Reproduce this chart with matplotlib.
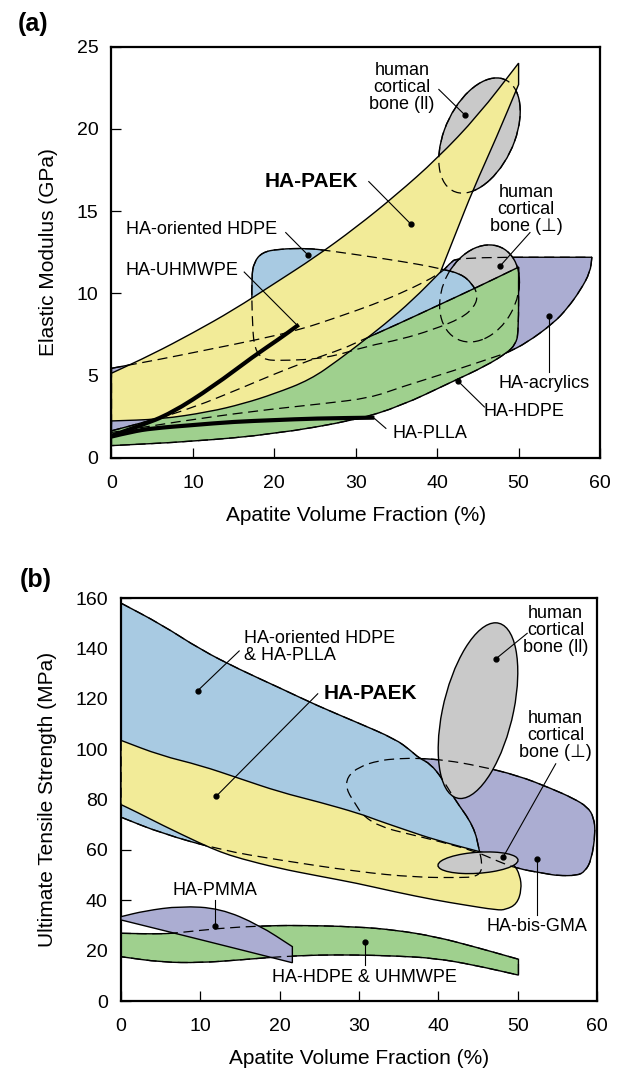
import numpy as np
import matplotlib
matplotlib.use("Agg")
from matplotlib import pyplot as plt
from matplotlib.patches import PathPatch, Ellipse
from matplotlib.path import Path

plt.rcParams['font.family'] = ['Liberation Sans', 'DejaVu Sans']

YELLOW = '#F2EB98'
BLUE = '#A8CAE2'
GREEN = '#9FD08E'
PURPLE = '#ABADD2'
GREY = '#C9C9C9'
DASH = (0, (8, 4.5))

# (a) Elastic modulus (GPa) vs apatite volume fraction (%)
acrylics_a = [(0, 5.45), (6, 6.0), (12, 6.6), (18, 7.2), (23.2, 7.8), (28, 8.6), (32, 9.3),
              (36, 10.1), (40.4, 11.2), (41.5, 11.8), (42.5, 12.2), (59, 12.2), (58.8, 11.3),
              (57.6, 10.2), (56, 9.1), (54.3, 8.2), (51, 7.0), (48.6, 6.4), (48, 6.3), (42, 5.3),
              (35.5, 4.3), (31.8, 3.65), (26, 3.3), (17.5, 2.85), (8, 2.2), (0, 1.55)]
oriented_hdpe_a = [(17.2, 11.0), (17.5, 11.9), (18.5, 12.5), (20.5, 12.7), (24, 12.75), (26.7, 12.6),
                   (33, 12.15), (38, 11.75), (40.4, 11.5), (42.9, 11.2), (44.3, 10.6), (45, 9.9),
                   (44.6, 9.2), (43, 8.5), (39.5, 7.8), (35.5, 7.2), (31.4, 6.8), (26.4, 6.05),
                   (20.5, 5.9), (18.6, 6.0), (17.6, 6.6), (17.3, 8.0)]
hdpe_a = [(0, 1.65), (5, 2.3), (10, 3.05), (16.2, 4.3), (20, 5.1), (24.4, 5.95), (28.5, 6.65),
          (30, 7.0), (35, 8.1), (40, 9.25), (45, 10.4), (50, 11.6), (50, 7.6), (49.6, 6.9),
          (48.6, 6.4), (46, 5.6), (41.7, 4.6), (35.5, 3.15), (30, 2.3), (20, 1.45), (10, 1.0),
          (0, 0.75)]
paek_a = [(0, 5.15), (5, 6.3), (10, 7.6), (15, 9.0), (20, 10.6), (25, 12.2), (30, 14.0), (35, 16.0),
          (40, 18.2), (45, 20.8), (50, 24.0), (50, 22.7), (47.3, 19.5), (44.4, 16.3), (42.4, 13.8),
          (40.4, 11.3), (37, 9.6), (33.5, 8.1), (30.5, 6.95), (28, 6.0), (24.4, 4.75), (20, 3.9),
          (16.2, 3.3), (12, 2.8), (6, 2.35), (0, 2.25)]
uhmwpe_a = [(0, 1.35), (3.5, 1.95), (7.3, 2.7), (12.5, 4.35), (17.5, 6.2), (20.5, 7.2), (23, 8.1)]
plla_a = [(0, 1.3), (2.5, 1.6), (5, 1.8), (10, 2.0), (15, 2.2), (20, 2.3), (25, 2.4), (32.3, 2.45)]
# vertices that stay sharp corners
acrylics_a_sharp = (0, 11, 25)
hdpe_a_sharp = (0, 11, 21)
paek_a_sharp = (0, 10, 11, 15, 25)
# bones: centre, width, height, angle
bone_par_a = ((45.2, 19.6), 10.65, 5.97, 24.5)
bone_perp_a = ((45.2, 10.0), 9.96, 5.63, 12.4)

# label text, text position, leader start, leader end, dot, weight
labels_a = [
    ('human\ncortical\nbone (ll)', (35.7, 22.5), (40.2, 22.4), (43.4, 20.85), True, 'normal'),
    ('HA-PAEK', (24.6, 16.8), (31.6, 16.8), (36.8, 14.2), True, 'bold'),
    ('human\ncortical\nbone (\u22a5)', (50.9, 15.1), (51.4, 13.7), (47.7, 11.65), True, 'normal'),
    ('HA-oriented HDPE', (11.1, 13.9), (21.4, 13.7), (24.1, 12.35), True, 'normal'),
    ('HA-UHMWPE', (8.7, 11.4), (16.3, 11.3), (22.8, 8.07), False, 'normal'),
    ('HA-acrylics', (53.1, 4.5), (53.7, 5.2), (53.7, 8.6), True, 'normal'),
    ('HA-HDPE', (50.6, 2.8), (45.8, 3.1), (42.5, 4.7), True, 'normal'),
    ('HA-PLLA', (39.1, 1.5), (33.7, 1.8), (32.3, 2.4), False, 'normal'),
]

# (b) Ultimate tensile strength (MPa) vs apatite volume fraction (%)
bisgma_b = [(37.6, 96.4), (41, 95.6), (45, 93.4), (50, 89.6), (54.3, 84.3), (57, 80.5), (58.8, 77.1),
            (59.6, 73), (59.8, 66.6), (59.3, 56), (58.5, 51.5), (57.5, 49.8), (55, 49.8),
            (53.7, 50.5), (49.9, 52.6), (47.5, 55.5), (44.8, 59.3), (40, 63.5), (36, 66.5),
            (32.7, 69.2), (30.5, 73.5), (29.5, 78.5), (28.4, 84), (28.5, 89), (30, 93),
            (32.5, 95.5), (35, 96.3)]
oriented_hdpe_b = [(0, 158), (5.1, 149.5), (10, 139.6), (14.9, 131.7), (19.9, 124.5), (24.8, 117.2),
                   (29.7, 110.7), (34.6, 104), (36.5, 99.5), (37.6, 96.4), (39, 94.2), (40.5, 88.3),
                   (42, 80.4), (44.5, 69.3), (45.2, 59.3), (45.5, 55), (45.4, 51), (44.5, 49.3),
                   (43, 49), (37.1, 49.1), (29.7, 51.4), (19.9, 56), (12.5, 60), (5.1, 66.6),
                   (0, 73)]
paek_b = [(0, 103.5), (5, 97.5), (10, 93.6), (15, 88.3), (20, 83), (25, 79), (30, 74.5), (32.2, 71.9),
          (36, 67.8), (39.6, 64), (45.2, 59.3), (48, 57), (49.5, 54.5), (50.3, 50), (50.5, 44.2),
          (49.9, 38.5), (48.5, 36.3), (47.4, 36.1), (43.2, 38.2), (39.6, 40.1), (34.6, 43.3),
          (29.7, 46.8), (24.8, 49.7), (19.9, 52.7), (15, 56.6), (12.5, 59.2), (10, 62.6),
          (5.1, 70), (2, 75), (0, 78)]
hdpe_b = [(0, 26.9), (5.1, 26.6), (7.5, 27.2), (12.5, 28.9), (17.4, 29.8), (22.3, 30.1), (29.7, 29.5),
          (34.6, 28.2), (39.6, 25.6), (44.5, 21.6), (50.1, 16.6), (50.1, 10.3), (44.5, 14.3),
          (39.6, 17), (34.6, 17.9), (29.7, 18.3), (24.8, 18.3), (19.9, 17.6), (14.9, 16.3),
          (10, 15.2), (5.1, 15.4), (0, 17.6)]
pmma_b = [(0, 33.5), (3, 35.8), (7.5, 37.7), (12.5, 36.8), (17.4, 30.2), (21.6, 21.6), (21.6, 15.2),
          (10, 24.4), (0, 32.2)]
oriented_hdpe_b_sharp = (0, 24)
paek_b_sharp = (0, 29)
hdpe_b_sharp = (0, 10, 11, 21)
pmma_b_sharp = (0, 5, 6, 8)
bone_par_b = ((45.0, 115.3), 69.9, 9.0, 86.33)
bone_perp_b = ((45.0, 54.9), 10.62, 7.95, 27.9)

labels_b = [
    ('HA-oriented HDPE\n& HA-PLLA', (15.5, 140.5), (14.9, 139.0), (9.66, 123.2), True, 'normal'),
    ('HA-PAEK', (31.4, 122.2), (24.8, 122.0), (12.0, 81.3), True, 'bold'),
    ('human\ncortical\nbone (ll)', (54.8, 147.3), (51.2, 146.0), (47.3, 136.0), True, 'normal'),
    ('human\ncortical\nbone (\u22a5)', (54.8, 105.4), (54.8, 94.2), (48.2, 57.3), True, 'normal'),
    ('HA-bis-GMA', (52.4, 29.5), (52.5, 34.1), (52.5, 56.2), True, 'normal'),
    ('HA-PMMA', (11.9, 43.8), (11.9, 40.1), (11.9, 29.9), True, 'normal'),
    ('HA-HDPE & UHMWPE', (30.7, 9.3), (30.8, 14.3), (30.8, 23.6), True, 'normal'),
]


def closed_path(pts, sharp=()):
    # quadratic curves between edge midpoints; sharp vertices are doubled
    seq = []
    for i, p in enumerate(pts):
        seq.append(p)
        if i in sharp:
            seq.append(p)
    n = len(seq)
    mids = [((seq[i][0] + seq[(i + 1) % n][0]) / 2, (seq[i][1] + seq[(i + 1) % n][1]) / 2)
            for i in range(n)]
    verts = [mids[0]]
    codes = [Path.MOVETO]
    for i in range(1, n + 1):
        verts += [seq[i % n], mids[i % n]]
        codes += [Path.CURVE3, Path.CURVE3]
    verts.append(mids[0])
    codes.append(Path.CLOSEPOLY)
    return Path(verts, codes)


def open_path(pts):
    verts = [pts[0]]
    codes = [Path.MOVETO]
    for i in range(1, len(pts) - 1):
        mid = ((pts[i][0] + pts[i + 1][0]) / 2, (pts[i][1] + pts[i + 1][1]) / 2)
        verts += [pts[i], mid]
        codes += [Path.CURVE3, Path.CURVE3]
    verts.append(pts[-1])
    codes.append(Path.LINETO)
    return Path(verts, codes)


def region(ax, pts, color, z, sharp=(), hidden=False):
    path = closed_path(pts, sharp)
    ax.add_patch(PathPatch(path, facecolor=color, edgecolor='k', lw=1.0, zorder=z))
    if hidden:
        ax.add_patch(PathPatch(path, fill=False, edgecolor='k', lw=0.9, ls=DASH, zorder=20))


def bone(ax, spec, z, hidden=False):
    c, w, h, ang = spec
    ax.add_patch(Ellipse(c, w, h, angle=ang, facecolor=GREY, edgecolor='k', lw=1.0, zorder=z))
    if hidden:
        ax.add_patch(Ellipse(c, w, h, angle=ang, fill=False, edgecolor='k', lw=0.9,
                             ls=DASH, zorder=20))


def put_labels(ax, labels):
    for text, pos, start, end, dot, weight in labels:
        size = 15 if weight == 'bold' else 13
        ha = 'left' if text.startswith('HA-oriented HDPE\n') else 'center'
        ax.text(pos[0], pos[1], text, ha=ha, va='center', fontsize=size, fontweight=weight,
                linespacing=1.0, zorder=30)
        ax.plot([start[0], end[0]], [start[1], end[1]], color='k', lw=0.8, zorder=30)
        if dot:
            ax.plot(end[0], end[1], 'o', color='k', ms=3.5, zorder=31)


def style(ax, ymax, ystep, ylabel):
    ax.set_xlim(0, 60)
    ax.set_ylim(0, ymax)
    ax.set_xticks(np.arange(0, 61, 10))
    ax.set_yticks(np.arange(0, ymax + 1, ystep))
    ax.tick_params(direction='in', length=7, width=0.9, labelsize=14)
    ax.tick_params(axis='x', pad=12.5)
    ax.tick_params(axis='y', pad=9.5)
    for s in ax.spines.values():
        s.set_linewidth(1.6)
    ax.set_xlabel('Apatite Volume Fraction (%)', fontsize=15, labelpad=10)
    ax.set_ylabel(ylabel, fontsize=15, labelpad=13)


fig = plt.figure(figsize=(6.18, 10.68), dpi=100)
ax_a = fig.add_axes([0.1804, 0.5712, 0.7905, 0.3851])
ax_b = fig.add_axes([0.1958, 0.0627, 0.7702, 0.3773])

# panel (a)
region(ax_a, acrylics_a, PURPLE, 1, acrylics_a_sharp, hidden=True)
bone(ax_a, bone_par_a, 2, hidden=True)
bone(ax_a, bone_perp_a, 2, hidden=True)
region(ax_a, oriented_hdpe_a, BLUE, 3, hidden=True)
region(ax_a, hdpe_a, GREEN, 4, hdpe_a_sharp, hidden=True)
region(ax_a, paek_a, YELLOW, 5, paek_a_sharp)
for line in (uhmwpe_a, plla_a):
    ax_a.add_patch(PathPatch(open_path(line), fill=False, edgecolor='k', lw=3,
                             capstyle='butt', zorder=25))
put_labels(ax_a, labels_a)
style(ax_a, 25, 5, 'Elastic Modulus (GPa)')

# panel (b)
region(ax_b, bisgma_b, PURPLE, 1, hidden=True)
region(ax_b, oriented_hdpe_b, BLUE, 2, oriented_hdpe_b_sharp, hidden=True)
region(ax_b, paek_b, YELLOW, 3, paek_b_sharp)
bone(ax_b, bone_par_b, 4)
bone(ax_b, bone_perp_b, 5)
region(ax_b, hdpe_b, GREEN, 2, hdpe_b_sharp, hidden=True)
region(ax_b, pmma_b, PURPLE, 3, pmma_b_sharp)
put_labels(ax_b, labels_b)
style(ax_b, 160, 20, 'Ultimate Tensile Strength (MPa)')

fig.text(0.029, 0.9775, '(a)', fontsize=18, fontweight='bold', va='center')
fig.text(0.032, 0.457, '(b)', fontsize=18, fontweight='bold', va='center')

fig.savefig('out.png', dpi=100)
